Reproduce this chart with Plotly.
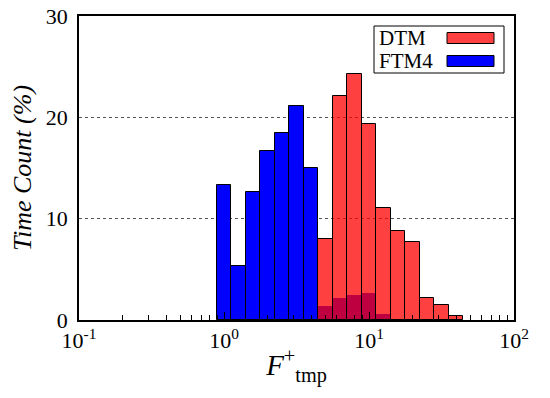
import plotly.graph_objects as go

# Bin centres in log10 space (bin width 0.1 decade)
dtm_exp = [0.7, 0.8, 0.9, 1.0, 1.1, 1.2, 1.3, 1.4, 1.5, 1.6]
dtm_pct = [8.0, 22.1, 24.3, 19.3, 11.1, 8.8, 7.7, 2.2, 1.5, 0.4]

ftm_exp = [0.0, 0.1, 0.2, 0.3, 0.4, 0.5, 0.6, 0.7, 0.8, 0.9, 1.0, 1.1]
ftm_pct = [13.3, 5.3, 12.6, 16.7, 18.5, 21.1, 15.0, 1.4, 2.2, 2.5, 2.7, 0.6]

x_tickvals = [0.1, 1, 10, 100]
x_ticktext = ["10<sup>-1</sup>", "10<sup>0</sup>", "10<sup>1</sup>", "10<sup>2</sup>"]
y_tickvals = [0, 10, 20, 30]

BIN_W = 0.1  # decades
font_family = "Liberation Serif"


def bin_geom(exps):
    lo = [10 ** (e - BIN_W / 2) for e in exps]
    hi = [10 ** (e + BIN_W / 2) for e in exps]
    return [(a + b) / 2 for a, b in zip(lo, hi)], [b - a for a, b in zip(lo, hi)]


fx, fw = bin_geom(ftm_exp)
dx, dw = bin_geom(dtm_exp)

fig = go.Figure()
fig.add_trace(go.Bar(
    name="FTM4", x=fx, y=ftm_pct, width=fw,
    marker=dict(color="rgb(0,0,255)",
                line=dict(color="black", width=[1 if e < 0.65 else 0 for e in ftm_exp])),
    showlegend=False,
))
fig.add_trace(go.Bar(
    name="DTM", x=dx, y=dtm_pct, width=dw,
    marker=dict(color="rgba(255,0,0,0.75)", line=dict(color="black", width=1)),
    showlegend=False,
))

minor_vals = [m * 10 ** d for d in (-1, 0, 1) for m in range(2, 10)]

fig.update_layout(
    width=550, height=398,
    margin=dict(l=79, r=36, t=16, b=78),
    paper_bgcolor="white", plot_bgcolor="white",
    barmode="overlay", bargap=0,
    font=dict(family=font_family, size=21, color="black"),
    xaxis=dict(
        type="log", range=[-1, 2], automargin=False,
        tickmode="array", tickvals=x_tickvals, ticktext=x_ticktext,
        ticks="inside", ticklen=8, tickcolor="black", tickwidth=1,
        minor=dict(tickmode="array", tickvals=minor_vals, ticks="inside",
                   ticklen=5, tickcolor="black", tickwidth=1, showgrid=False),
        showline=True, linecolor="black", linewidth=1.5, mirror=True,
        showgrid=False, zeroline=False, ticklabeloverflow="allow",
        tickfont=dict(size=22),
        title=dict(text="<i>F</i><sup>+</sup><sub>tmp</sub>", font=dict(size=29), standoff=3),
    ),
    yaxis=dict(
        range=[0, 30], tickmode="array", tickvals=y_tickvals, automargin=False,
        ticks="", showline=True, linecolor="black", linewidth=1.5, mirror=True,
        showgrid=True, gridcolor="#555555", griddash="dot", gridwidth=1,
        zeroline=False, tickfont=dict(size=22), ticklabelstandoff=5,
        ticklabeloverflow="allow",
        title=dict(text="<i>Time Count (%)</i>", font=dict(size=26), standoff=7),
    ),
)

# Legend drawn as a framed box with swatches on the right, as in the reference
legend_items = [("DTM", "rgba(255,0,0,0.75)"), ("FTM4", "rgb(0,0,255)")]
x0, x1 = 374, 504
y0, y1 = 26, 73


def px(xp):
    return (xp - 79) / (514 - 79)


def py(yp):
    return 1 - (yp - 16) / (320 - 16)


fig.add_shape(type="rect", xref="paper", yref="paper",
              x0=px(x0), x1=px(x1), y0=py(y1), y1=py(y0),
              line=dict(color="black", width=1), fillcolor="white", layer="above")
for i, (label, col) in enumerate(legend_items):
    yc = 38 + i * 23
    fig.add_annotation(xref="paper", yref="paper", x=px(377), y=py(yc),
                       text=label, showarrow=False, xanchor="left", yanchor="middle",
                       font=dict(size=21, family=font_family, color="black"))
    fig.add_shape(type="rect", xref="paper", yref="paper",
                  x0=px(447), x1=px(494), y0=py(yc + 5.5), y1=py(yc - 5.5),
                  line=dict(color="black", width=1), fillcolor=col, layer="above")

# remove the browser's default 8px body margin so the figure sits at the page origin
fig.write_html("out.html",
               config={"displayModeBar": False},
               post_script="document.body.style.margin='0';document.body.style.overflow='hidden';")
